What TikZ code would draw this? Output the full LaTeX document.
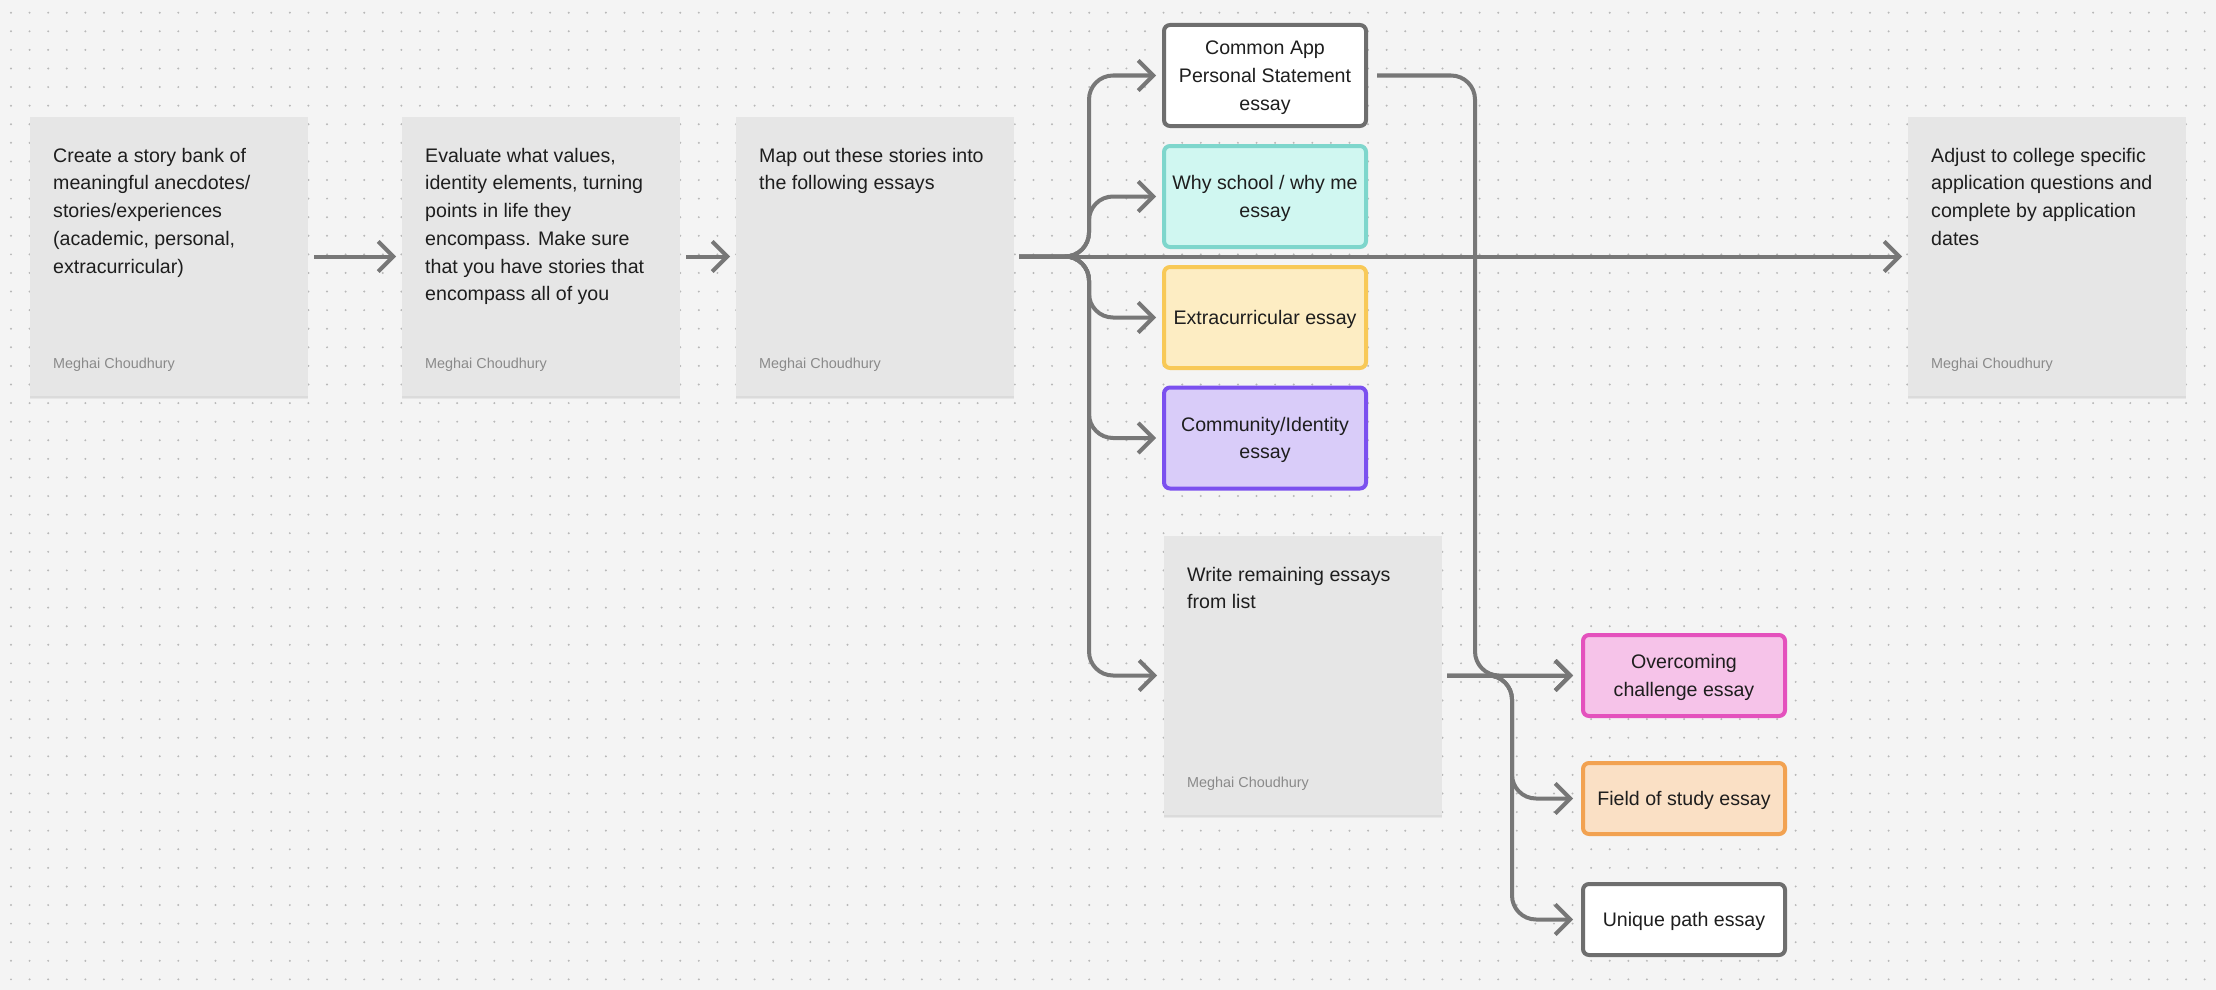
\documentclass[tikz,border=0pt]{standalone}
\usepackage{fontspec}
\setmainfont{Liberation Sans}
\usetikzlibrary{arrows.meta,calc,shadows}
\definecolor{bgc}{HTML}{F4F4F4}
\definecolor{dotc}{HTML}{B8B8B8}
\definecolor{cardc}{HTML}{E6E6E6}
\definecolor{linec}{HTML}{777777}
\definecolor{txtc}{HTML}{1E1E1E}
\definecolor{authc}{HTML}{8A8A8A}
\definecolor{grayb}{HTML}{6E6E6E}
\definecolor{cyanf}{HTML}{D0F7F1}
\definecolor{cyanb}{HTML}{7ED6CC}
\definecolor{yelf}{HTML}{FDEDC3}
\definecolor{yelb}{HTML}{F8C957}
\definecolor{purf}{HTML}{D9CCF9}
\definecolor{purb}{HTML}{7B50EF}
\definecolor{pinkf}{HTML}{F6C3E9}
\definecolor{pinkb}{HTML}{E451BD}
\definecolor{orf}{HTML}{FAE0C5}
\definecolor{orb}{HTML}{F2A251}
\begin{document}
\begin{tikzpicture}[x=1pt,y=-1pt,
  card/.style={rectangle, fill=cardc, minimum width=278pt, minimum height=279pt,
    inner sep=0pt, outer sep=0pt, anchor=north west,
    drop shadow={shadow xshift=0pt, shadow yshift=-3pt, opacity=0.05, fill=black},
    drop shadow={shadow xshift=0pt, shadow yshift=-1.5pt, opacity=0.05, fill=black}},
  body/.style={anchor=north west, align=left, inner sep=0pt, text=txtc,
    font=\fontsize{19.6}{27.7}\selectfont},
  author/.style={anchor=base west, inner sep=0pt, text=authc,
    font=\fontsize{14.4}{17}\selectfont},
  box/.style={rectangle, rounded corners=6pt, line width=4pt, minimum width=202pt,
    minimum height=101pt, inner sep=0pt, align=center, text=txtc, text depth=0pt,
    font=\fontsize{19.6}{27.7}\selectfont},
  conn/.style={draw=linec, line width=4pt, rounded corners=24pt,
    -{Straight Barb[length=15pt,width=30pt]}},
  dotrow/.style={draw=dotc, line width=2.2pt, line cap=round,
    dash pattern=on 0pt off 18.59pt}
]
\fill[bgc] (0,0) rectangle (2216,990);
\useasboundingbox (0,0) rectangle (2216,990);
\foreach \j in {0,...,52}{
  \draw[dotrow] (11,12.7+18.59*\j) -- (2216,12.7+18.59*\j);
}

% cards
\node[card] (c1) at (30,117) {};
\node[card] (c2) at (402,117) {};
\node[card] (c3) at (736,117) {};
\node[card] (c4) at (1908,117) {};
\node[card] (wr) at (1164,536) {};

\node[body] (t1) at ($(c1.north west)+(23,30.8)$) {Create a story bank of\\meaningful anecdotes/\\stories/experiences\\(academic, personal,\\extracurricular)};
\node[body] (t2) at ($(c2.north west)+(23,30.8)$) {Evaluate what values,\\identity elements, turning\\points in life they\\encompass. Make sure\\that you have stories that\\encompass all of you};
\node[body] (t3) at ($(c3.north west)+(23,30.8)$) {Map out these stories into\\the following essays};
\node[body] (t4) at ($(c4.north west)+(23,30.8)$) {Adjust to college specific\\application questions and\\complete by application\\dates};
\node[body] (t5) at ($(wr.north west)+(23,30.8)$) {Write remaining essays\\from list};

\node[author] (a1) at ($(c1.north west)+(23,251)$) {Meghai Choudhury};
\node[author] (a2) at ($(c2.north west)+(23,251)$) {Meghai Choudhury};
\node[author] (a3) at ($(c3.north west)+(23,251)$) {Meghai Choudhury};
\node[author] (a4) at ($(c4.north west)+(23,251)$) {Meghai Choudhury};
\node[author] (a5) at ($(wr.north west)+(23,251)$) {Meghai Choudhury};

% essay boxes
\node[box, draw=grayb, fill=white] (ca) at (1265,75.5) {Common App\\Personal Statement\\essay};
\node[box, draw=cyanb, fill=cyanf] (ws) at (1265,196.5) {Why school / why me\\essay};
\node[box, draw=yelb, fill=yelf] (ex) at (1265,317.5) {Extracurricular essay};
\node[box, draw=purb, fill=purf] (cm) at (1265,438) {Community/Identity\\essay};
\node[box, draw=pinkb, fill=pinkf, minimum height=81pt] (ov) at (1684,675.5) {Overcoming\\challenge essay};
\node[box, draw=orb, fill=orf, minimum height=71pt] (fs) at (1684,798.5) {Field of study essay};
\node[box, draw=grayb, fill=white, minimum height=71pt] (up) at (1684,919.5) {Unique path essay};

% connectors
\coordinate (j1) at ($(c3.east)+(75,0)$);
\coordinate (j2) at ($(ca.east)+(107,0)$);
\coordinate (j3) at ($(wr.east)+(70,0)$);

\draw[conn] ([xshift=6pt]c1.east) -- ([xshift=-6pt]c2.west);
\draw[conn] ([xshift=6pt]c2.east) -- ([xshift=-6pt]c3.west);
\draw[conn] ([xshift=5pt]c3.east) -- ([xshift=-6pt]c4.west);
\draw[conn] ([xshift=5pt]c3.east) -- (j1) |- ([xshift=-6pt]ca.west);
\draw[conn] ([xshift=5pt]c3.east) -- (j1) |- ([xshift=-6pt]ws.west);
\draw[conn] ([xshift=5pt]c3.east) -- (j1) |- ([xshift=-6pt]ex.west);
\draw[conn] ([xshift=5pt]c3.east) -- (j1) |- ([xshift=-6pt]cm.west);
\draw[conn] ([xshift=5pt]c3.east) -- (j1) |- ([xshift=-7pt]wr.west);
\draw[conn] ([xshift=9pt]ca.east) -- (j2) |- ([xshift=-8pt]ov.west);
\draw[conn] ([xshift=5pt]wr.east) -- ([xshift=-8pt]ov.west);
\draw[conn] ([xshift=5pt]wr.east) -- (j3) |- ([xshift=-8pt]fs.west);
\draw[conn] ([xshift=5pt]wr.east) -- (j3) |- ([xshift=-8pt]up.west);
\end{tikzpicture}
\end{document}
